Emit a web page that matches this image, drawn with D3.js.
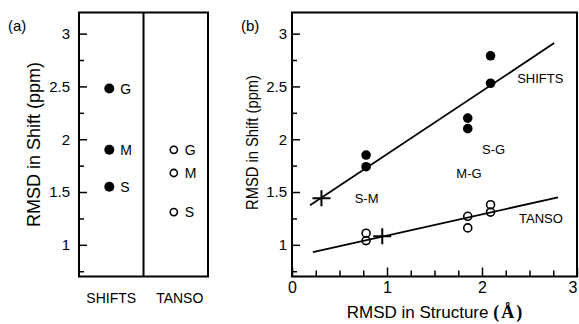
<!DOCTYPE html>
<html lang="en">
<head>
  <meta charset="UTF-8" />
  <title>RMSD in Shift vs Structure</title>
  <script src="https://d3js.org/d3.v7.min.js"></script>
  <style>
    body {
      margin: 0;
      background: white;
    }
    svg {
      font-family: "Liberation Sans", Arial, sans-serif;
      display: block;
    }
    .frame {
      fill: none;
      stroke: black;
      stroke-width: 2;
    }
    .axis path { display: none; }
    .axis line { stroke: black; stroke-width: 1.5; }
    .axis text { fill: black; }
  </style>
</head>
<body>
  <svg width="579" height="324"></svg>
  <script>
    // Panel (a): RMSD in shift per method, for each comparison
    const methods = ["SHIFTS", "TANSO"];
    const pairLabels = ["G", "M", "S"];
    const shiftsA = [2.48, 1.90, 1.55];
    const tansoA = [1.90, 1.68, 1.31];

    // Panel (b): RMSD in shift vs RMSD in structure
    const structRmsd = [0.78, 0.78, 1.85, 1.85, 2.09, 2.09];
    const shiftsB = [1.85, 1.74, 2.20, 2.10, 2.79, 2.53];
    const tansoB = [1.11, 1.04, 1.27, 1.16, 1.38, 1.31];
    const shiftsFit = [[0.19, 1.374], [2.76, 2.91]];
    const tansoFit = [[0.22, 0.93], [2.80, 1.45]];
    const crosses = [[0.31, 1.44], [0.95, 1.08]];
    const notes = [
      { text: "SHIFTS", x: 2.37, y: 2.53 },
      { text: "S-G", x: 2.00, y: 1.86 },
      { text: "M-G", x: 1.73, y: 1.63 },
      { text: "S-M", x: 0.66, y: 1.40 },
      { text: "TANSO", x: 2.39, y: 1.21 }
    ];

    const yMajor = [1, 1.5, 2, 2.5, 3];
    const yMinor = [0.75, 1.25, 1.75, 2.25, 2.75];
    const xMajor = [0, 1, 2, 3];
    const xMinor = [0.25, 0.5, 0.75, 1.25, 1.5, 1.75, 2.25, 2.5, 2.75];

    const svg = d3.select("svg");
    const plotTop = 12.5, plotBottom = 276.5;
    const y = d3.scaleLinear().domain([0.7, 3.2]).range([plotBottom, plotTop]);

    // ---------- panel (a) ----------
    const xa = d3.scaleBand().domain(methods).range([79, 208]);
    const ga = svg.append("g");

    ga.append("g").attr("class", "axis")
      .attr("transform", `translate(${xa.range()[0]},0)`)
      .call(d3.axisLeft(y).tickValues(yMajor).tickSize(-8).tickPadding(9)
        .tickFormat(d3.format("")))
      .selectAll("text").style("font-size", "15px");
    ga.append("g").attr("class", "axis")
      .attr("transform", `translate(${xa.range()[0]},0)`)
      .call(d3.axisLeft(y).tickValues(yMinor).tickSize(-5).tickFormat(""));

    ga.append("rect").attr("class", "frame")
      .attr("x", xa.range()[0]).attr("y", plotTop)
      .attr("width", xa.range()[1] - xa.range()[0]).attr("height", plotBottom - plotTop);
    ga.append("line")
      .attr("x1", xa("TANSO")).attr("x2", xa("TANSO"))
      .attr("y1", plotTop).attr("y2", plotBottom)
      .attr("stroke", "black").attr("stroke-width", 2);

    const colA = [
      { m: "SHIFTS", vals: shiftsA, filled: true },
      { m: "TANSO", vals: tansoA, filled: false }
    ];
    colA.forEach(c => {
      const cx = xa(c.m) + xa.bandwidth() * 0.47;
      c.vals.forEach((v, i) => {
        ga.append("circle")
          .attr("cx", cx).attr("cy", y(v))
          .attr("r", c.filled ? 5 : 3.6)
          .attr("fill", c.filled ? "black" : "white")
          .attr("stroke", "black").attr("stroke-width", c.filled ? 0 : 1.6);
        ga.append("text")
          .attr("x", cx + 11).attr("y", y(v)).attr("dy", "0.36em")
          .style("font-size", "14px")
          .text(pairLabels[i]);
      });
      ga.append("text")
        .attr("x", xa(c.m) + xa.bandwidth() / 2 + (c.m === "TANSO" ? 4 : 0))
        .attr("y", 303)
        .attr("text-anchor", "middle")
        .style("font-size", "14px")
        .text(c.m);
    });

    ga.append("text")
      .attr("transform", `translate(40,${(plotTop + plotBottom) / 2})rotate(-90)`)
      .attr("text-anchor", "middle")
      .style("font-size", "18px")
      .text("RMSD in Shift (ppm)");
    ga.append("text").attr("x", 8).attr("y", 31)
      .style("font-size", "15px").text("(a)");

    // ---------- panel (b) ----------
    const xb = d3.scaleLinear().domain([0, 3]).range([292, 577]);
    const gb = svg.append("g");

    gb.append("g").attr("class", "axis")
      .attr("transform", `translate(${xb(0)},0)`)
      .call(d3.axisLeft(y).tickValues(yMajor).tickSize(-8).tickPadding(5)
        .tickFormat(d3.format("")))
      .selectAll("text").style("font-size", "15px");
    gb.append("g").attr("class", "axis")
      .attr("transform", `translate(0,${plotBottom})`)
      .call(d3.axisBottom(xb).tickValues(xMajor).tickSize(-9).tickPadding(5)
        .tickFormat(d3.format("")))
      .selectAll("text").style("font-size", "16px")
      // the last label sits at the page edge; keep it inside
      .filter(d => d === 3).attr("text-anchor", "end");
    gb.append("g").attr("class", "axis")
      .attr("transform", `translate(${xb(0)},0)`)
      .call(d3.axisLeft(y).tickValues(yMinor).tickSize(-5).tickFormat(""));
    gb.append("g").attr("class", "axis")
      .attr("transform", `translate(0,${plotBottom})`)
      .call(d3.axisBottom(xb).tickValues(xMinor).tickSize(-6).tickFormat(""));

    gb.append("rect").attr("class", "frame")
      .attr("x", xb(0)).attr("y", plotTop)
      .attr("width", xb(3) - xb(0)).attr("height", plotBottom - plotTop);

    const line = d3.line().x(d => xb(d[0])).y(d => y(d[1]));
    [shiftsFit, tansoFit].forEach(f => {
      gb.append("path").attr("d", line(f))
        .attr("fill", "none").attr("stroke", "black").attr("stroke-width", 1.8);
    });

    gb.selectAll("circle.shifts")
      .data(structRmsd.map((s, i) => [s, shiftsB[i]]))
      .enter().append("circle")
      .attr("cx", d => xb(d[0])).attr("cy", d => y(d[1]))
      .attr("r", 4.8).attr("fill", "black");
    gb.selectAll("circle.tanso")
      .data(structRmsd.map((s, i) => [s, tansoB[i]]))
      .enter().append("circle")
      .attr("cx", d => xb(d[0])).attr("cy", d => y(d[1]))
      .attr("r", 4).attr("fill", "none")
      .attr("stroke", "black").attr("stroke-width", 1.6);

    crosses.forEach(c => {
      const cx = xb(c[0]), cy = y(c[1]);
      gb.append("path")
        .attr("d", `M${cx - 9},${cy}H${cx + 9}M${cx},${cy - 8}V${cy + 8}`)
        .attr("stroke", "black").attr("stroke-width", 2);
    });

    gb.selectAll("text.note")
      .data(notes).enter().append("text")
      .attr("x", d => xb(d.x)).attr("y", d => y(d.y))
      .style("font-size", "13px")
      .text(d => d.text);

    gb.append("text")
      .attr("transform", `translate(258,${(plotTop + plotBottom) / 2 - 2})rotate(-90)`)
      .attr("text-anchor", "middle")
      .attr("textLength", 135).attr("lengthAdjust", "spacingAndGlyphs")
      .style("font-size", "17px")
      .text("RMSD in Shift (ppm)");

    const xl = gb.append("text")
      .attr("x", (xb(0) + xb(3)) / 2 + 1).attr("y", 318)
      .attr("text-anchor", "middle")
      .style("font-size", "17px");
    xl.append("tspan").text("RMSD in Structure ");
    xl.append("tspan")
      .style("font-family", "'Liberation Serif', 'Times New Roman', serif")
      .style("font-weight", "bold").style("font-size", "18px")
      .attr("letter-spacing", "2")
      .text("(Å)");

    gb.append("text").attr("x", 241).attr("y", 31)
      .style("font-size", "15px").text("(b)");
  </script>
</body>
</html>
